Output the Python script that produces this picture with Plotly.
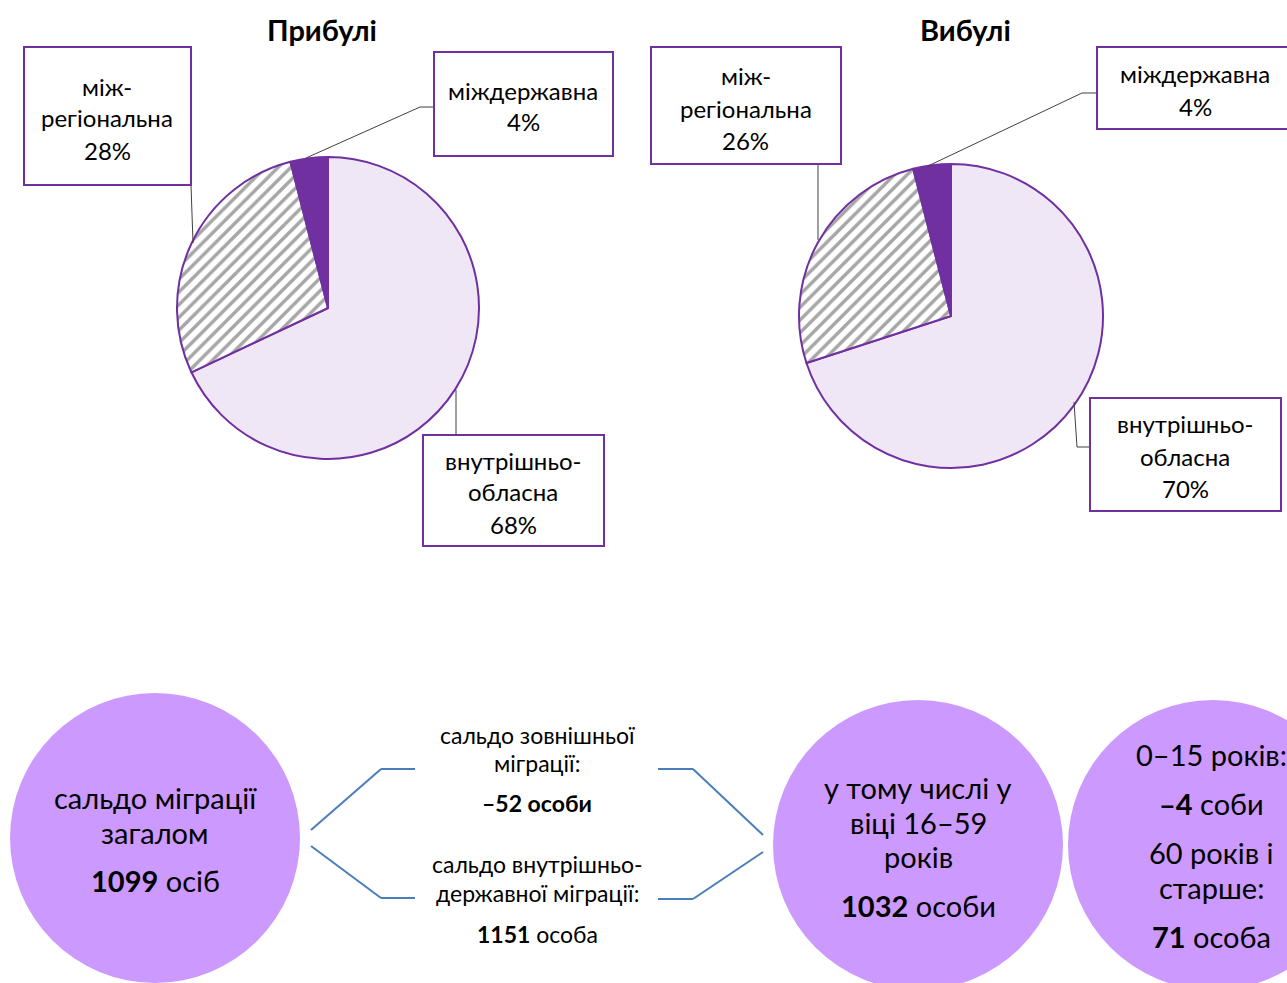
import plotly.graph_objects as go

# ---------------- data ----------------
categories = ["внутрішньо-обласна", "міжрегіональна", "міждержавна"]
box_labels = ["внутрішньо-<br>обласна", "між-<br>регіональна", "міждержавна"]
arrivals = [68, 28, 4]
departures = [70, 26, 4]
titles = ["Прибулі", "Вибулі"]

saldo_total = 1099
saldo_external = -52
saldo_internal = 1151
saldo_16_59 = 1032
saldo_0_15 = -4
saldo_60_plus = 71

# ---------------- styling ----------------
W, H = 1287, 983
FONT = "Lato"
PURPLE = "#7030A0"
LAVENDER = "#EFE6F6"
CIRCLE = "#CC99FF"
BLUE = "#4A7EBB"
slice_colors = [LAVENDER, "#FFFFFF", PURPLE]


def px(x):
    return x / W


def py(y):
    return 1 - y / H


fig = go.Figure()

pie_geom = [(328, 308, 151), (951, 316, 152)]
for vals, (cx, cy, r) in zip([arrivals, departures], pie_geom):
    fig.add_trace(go.Pie(
        labels=categories, values=vals, sort=False, direction="clockwise",
        rotation=0, textinfo="none", hoverinfo="label+percent",
        marker=dict(colors=slice_colors,
                    line=dict(color=PURPLE, width=2),
                    pattern=dict(shape=["", "/", ""], fgcolor="#A6A6A6",
                                 size=9, solidity=0.38)),
        domain=dict(x=[px(cx - r), px(cx + r)], y=[py(cy + r), py(cy - r)]),
        showlegend=False,
    ))

shapes = []
annotations = []


def text(x, y, s, size=21, bold=False):
    if bold:
        s = "<b>" + s + "</b>"
    annotations.append(dict(x=px(x), y=py(y), xref="paper", yref="paper",
                            text=s, showarrow=False, xanchor="center",
                            yanchor="middle",
                            font=dict(family=FONT, size=size, color="black")))


def line(x0, y0, x1, y1, color="#404040", width=1):
    shapes.append(dict(type="line", xref="paper", yref="paper",
                       x0=px(x0), y0=py(y0), x1=px(x1), y1=py(y1),
                       line=dict(color=color, width=width)))


def box(x0, y0, x1, y1):
    shapes.append(dict(type="rect", xref="paper", yref="paper",
                       x0=px(x0), y0=py(y0), x1=px(x1), y1=py(y1),
                       line=dict(color=PURPLE, width=2), fillcolor="white"))


# titles
text(322, 30, titles[0], size=29, bold=True)
text(965, 30, titles[1], size=29, bold=True)

# leader lines (pie 1)
line(191, 185, 193, 243)
line(434, 107, 420, 107)
line(420, 107, 306, 158)
line(456, 435, 456, 390)
# leader lines (pie 2)
line(818, 164, 818, 240)
line(1097, 93, 1082, 93)
line(1082, 93, 928, 166)
line(1090, 447, 1077, 447)
line(1077, 447, 1074, 402)

# label boxes: (values, index, box coords, line ys)
box_specs = [
    (arrivals, 1, (24, 47, 191, 185), (86, 118, 150)),
    (arrivals, 2, (434, 52, 613, 156), (90, 122)),
    (arrivals, 0, (423, 435, 604, 546), (460, 492, 524)),
    (departures, 1, (651, 47, 841, 164), (76, 108, 140)),
    (departures, 2, (1097, 47, 1292, 129), (74, 106)),
    (departures, 0, (1090, 398, 1281, 511), (424, 456, 488)),
]
centers = [107, 523, 513, 746, 1195, 1185]
for (vals, i, (x0, y0, x1, y1), ys), cx in zip(box_specs, centers):
    box(x0, y0, x1, y1)
    lines = box_labels[i].split("<br>") + [f"{vals[i]}%"]
    for s, yy in zip(lines, ys):
        text(cx, yy, s, size=24)

# bottom circles
for (x0, y0, x1, y1) in [(10, 693, 300, 983), (773, 700, 1063, 990),
                         (1068, 700, 1358, 990)]:
    shapes.append(dict(type="circle", xref="paper", yref="paper",
                       x0=px(x0), y0=py(y0), x1=px(x1), y1=py(y1),
                       line=dict(width=0), fillcolor=CIRCLE))

# brackets
for seg in [((311, 830), (381, 769)), ((381, 769), (415, 769)),
            ((311, 846), (381, 898)), ((381, 898), (415, 898)),
            ((658, 769), (693, 769)), ((693, 769), (763, 835)),
            ((658, 899), (693, 899)), ((693, 899), (763, 852))]:
    (a, b), (c, d) = seg
    line(a, b, c, d, color=BLUE, width=2)

BIG = 29
SMALL = 23
text(155, 797, "сальдо міграції", size=BIG)
text(155, 832, "загалом", size=BIG)
text(155, 880, f"<b>{saldo_total}</b> осіб", size=BIG)

text(537, 735, "сальдо зовнішньої", size=SMALL)
text(537, 763, "міграції:", size=SMALL)
text(537, 803, f"<b>–{abs(saldo_external)} особи</b>", size=SMALL)
text(537, 864, "сальдо внутрішньо-", size=SMALL)
text(537, 893, "державної міграції:", size=SMALL)
text(537, 934, f"<b>{saldo_internal}</b> особа", size=SMALL)

text(918, 787, "у тому числі у", size=BIG)
text(918, 822, "віці 16–59", size=BIG)
text(918, 856, "років", size=BIG)
text(918, 905, f"<b>{saldo_16_59}</b> особи", size=BIG)

text(1211, 754, "0–15 років:", size=BIG)
text(1211, 803, f"<b>–{abs(saldo_0_15)}</b> соби", size=BIG)
text(1211, 852, "60 років і", size=BIG)
text(1211, 887, "старше:", size=BIG)
text(1211, 936, f"<b>{saldo_60_plus}</b> особа", size=BIG)

fig.update_layout(
    width=W, height=H, margin=dict(l=0, r=0, t=0, b=0),
    paper_bgcolor="white", plot_bgcolor="white",
    shapes=shapes, annotations=annotations,
    font=dict(family=FONT),
)
fig.write_html("out.html", config={"displayModeBar": False},
               post_script="document.body.style.margin='0';"
                           "document.body.style.overflow='hidden';")
